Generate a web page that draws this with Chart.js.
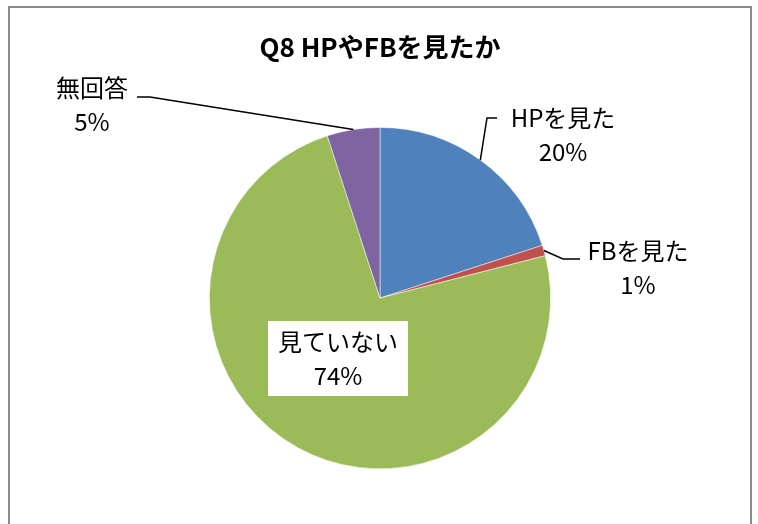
<!DOCTYPE html>
<html>
<head>
<meta charset="utf-8">
<script src="https://cdn.jsdelivr.net/npm/chart.js@4"></script>
<style>
  html, body { margin: 0; padding: 0; background: #fff; }
  #wrap { width: 758px; height: 524px; }
</style>
</head>
<body>
<div id="wrap"><canvas id="pieChart" width="758" height="524"></canvas></div>
<script>
const titleText = 'Q8 HPやFBを見たか';
const categories = ['HPを見た', 'FBを見た', '見ていない', '無回答'];
const percents = [20, 1, 74, 5];
const sliceColors = ['#4F81BD', '#C0504D', '#9BBB59', '#8064A2'];

const FONT = '"Noto Sans CJK JP", "Noto Sans", sans-serif';

// where each label sits; elbow = bend point of the leader line
const labelLayout = [
    { x: 563, y: 118, elbow: [487, 118], end: [497, 118] },
    { x: 638, y: 251, elbow: [563, 259], end: [580, 259] },
    { x: 338, y: 342, box: [268, 321, 140, 75] },
    { x: 92, y: 88, elbow: [150, 97], end: [137, 97] }
];

const framePlugin = {
    id: 'frame',
    beforeDraw(chart) {
        const ctx = chart.ctx;
        ctx.save();
        ctx.fillStyle = '#fff';
        ctx.fillRect(0, 0, chart.width, chart.height);
        ctx.strokeStyle = '#8c8c8c';
        ctx.lineWidth = 2;
        ctx.strokeRect(9, 7, 742, 540);
        ctx.restore();
    }
};

const labelPlugin = {
    id: 'sliceLabels',
    afterDatasetsDraw(chart) {
        const ctx = chart.ctx;
        const arcs = chart.getDatasetMeta(0).data;
        ctx.save();
        arcs.forEach((arc, i) => {
            const lay = labelLayout[i];
            const mid = (arc.startAngle + arc.endAngle) / 2;
            if (lay.elbow) {
                const ax = arc.x + Math.cos(mid) * arc.outerRadius;
                const ay = arc.y + Math.sin(mid) * arc.outerRadius;
                ctx.strokeStyle = '#000';
                ctx.lineWidth = 1.5;
                ctx.beginPath();
                ctx.moveTo(ax, ay);
                ctx.lineTo(lay.elbow[0], lay.elbow[1]);
                ctx.lineTo(lay.end[0], lay.end[1]);
                ctx.stroke();
            }
            if (lay.box) {
                ctx.fillStyle = '#fff';
                ctx.fillRect(lay.box[0], lay.box[1], lay.box[2], lay.box[3]);
            }
            ctx.fillStyle = '#000';
            ctx.textAlign = 'center';
            ctx.textBaseline = 'middle';
            ctx.font = '24px ' + FONT;
            ctx.fillText(categories[i], lay.x, lay.y);
            ctx.fillText(percents[i] + '%', lay.x, lay.y + 34);
        });
        ctx.restore();
    }
};

const ctx = document.getElementById('pieChart').getContext('2d');
new Chart(ctx, {
    type: 'pie',
    data: {
        labels: categories,
        datasets: [{
            data: percents,
            backgroundColor: sliceColors,
            borderColor: '#fff',
            borderWidth: 0.5
        }]
    },
    options: {
        responsive: false,
        animation: false,
        layout: {
            padding: { top: 0, bottom: 55, left: 209, right: 207 }
        },
        plugins: {
            legend: { display: false },
            tooltip: { enabled: false },
            title: {
                display: true,
                text: titleText,
                color: '#000',
                font: { family: FONT, size: 26, weight: 'bold', lineHeight: 1.2 },
                padding: { top: 32, bottom: 64 }
            }
        }
    },
    plugins: [framePlugin, labelPlugin]
});
</script>
</body>
</html>
